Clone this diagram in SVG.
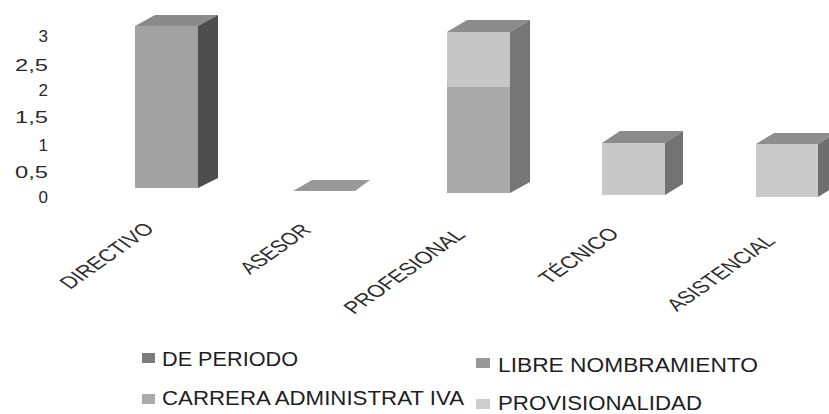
<svg xmlns="http://www.w3.org/2000/svg" width="829" height="414" viewBox="0 0 829 414">
<style>
  text { font-family: "Liberation Sans", Arial, sans-serif; fill: #222; }
  .ax { font-size: 17px; text-anchor: end; fill: #2a2a2a; }
  .cat { font-size: 17.5px; fill: #2a2a2a; }
  .lg { font-size: 20px; fill: #1e1e1e; }
</style>
<rect width="829" height="414" fill="#ffffff"/>
<g id="y-axis">
  <text class="ax" x="48" y="42">3</text>
  <text class="ax" x="48" y="71" textLength="33" lengthAdjust="spacingAndGlyphs">2,5</text>
  <text class="ax" x="48" y="96">2</text>
  <text class="ax" x="48" y="123" textLength="33" lengthAdjust="spacingAndGlyphs">1,5</text>
  <text class="ax" x="48" y="151">1</text>
  <text class="ax" x="48" y="178" textLength="33" lengthAdjust="spacingAndGlyphs">0,5</text>
  <text class="ax" x="48" y="203">0</text>
</g>
<g id="bar-directivo">
  <polygon points="135,26 198,26 218,15 155,15" fill="#8a8a8a"/>
  <polygon points="198,26 218,15 218,178 198,188" fill="#4e4e4e"/>
  <rect x="135" y="26" width="63" height="162" fill="#a2a2a2"/>
</g>
<g id="bar-asesor">
  <polygon points="293,191 355,191 370,180 312,180" fill="#999999"/>
</g>
<g id="bar-profesional">
  <polygon points="447,32 510,32 530,20 467,20" fill="#8c8c8c"/>
  <polygon points="510,32 530,20 530,182 510,193" fill="#767676"/>
  <rect x="447" y="87" width="63" height="106" fill="#a9a9a9"/>
  <rect x="447" y="32" width="63" height="55" fill="#c6c6c6"/>
</g>
<g id="bar-tecnico">
  <polygon points="602,143 665,143 683,131 620,131" fill="#8a8a8a"/>
  <polygon points="665,143 683,131 683,184 665,195" fill="#727272"/>
  <rect x="602" y="143" width="63" height="52" fill="#c8c8c8"/>
</g>
<g id="bar-asistencial">
  <polygon points="756,144 818,144 836,133 774,133" fill="#8e8e8e"/>
  <polygon points="818,144 836,133 836,186 818,197" fill="#6e6e6e"/>
  <rect x="756" y="144" width="62" height="53" fill="#cacaca"/>
</g>
<g id="x-axis">
  <text class="cat" transform="translate(70,290) scale(1.42,1) rotate(-45)" textLength="85" lengthAdjust="spacingAndGlyphs">DIRECTIVO</text>
  <text class="cat" transform="translate(250,275) scale(1.42,1) rotate(-45)" textLength="62" lengthAdjust="spacingAndGlyphs">ASESOR</text>
  <text class="cat" transform="translate(354,315) scale(1.42,1) rotate(-45)" textLength="112" lengthAdjust="spacingAndGlyphs">PROFESIONAL</text>
  <text class="cat" transform="translate(549,285) scale(1.42,1) rotate(-45)" textLength="71" lengthAdjust="spacingAndGlyphs">TÉCNICO</text>
  <text class="cat" transform="translate(677,312) scale(1.42,1) rotate(-45)" textLength="99" lengthAdjust="spacingAndGlyphs">ASISTENCIAL</text>
</g>
<g id="legend">
  <g id="legend-de-periodo">
    <rect x="142" y="353" width="13" height="10" fill="#7c7c7c"/>
    <text class="lg" x="162" y="366" textLength="136" lengthAdjust="spacingAndGlyphs">DE PERIODO</text>
  </g>
  <g id="legend-libre">
    <rect x="476" y="358" width="14" height="10" fill="#999999"/>
    <text class="lg" x="498" y="372" textLength="260" lengthAdjust="spacingAndGlyphs">LIBRE NOMBRAMIENTO</text>
  </g>
  <g id="legend-carrera">
    <rect x="142" y="394" width="13" height="10" fill="#ababab"/>
    <text class="lg" x="162" y="405" textLength="302" lengthAdjust="spacingAndGlyphs">CARRERA ADMINISTRAT IVA</text>
  </g>
  <g id="legend-provisionalidad">
    <rect x="476" y="399" width="14" height="10" fill="#cdcdcd"/>
    <text class="lg" x="498" y="409.5" textLength="204" lengthAdjust="spacingAndGlyphs">PROVISIONALIDAD</text>
  </g>
</g>
</svg>
